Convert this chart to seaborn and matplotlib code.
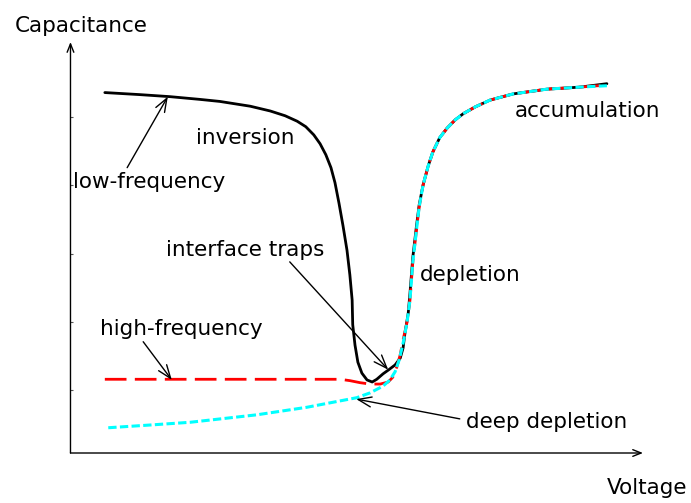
import matplotlib
matplotlib.use("Agg")
import matplotlib.pyplot as plt
import seaborn as sns
import pandas as pd

# ---- C-V curves of an MOS capacitor (arbitrary units) ----
lf_voltage = [0.60, 1.21, 1.74, 2.26, 2.61, 3.14, 3.49, 3.75, 3.96, 4.11, 4.25, 4.36,
              4.46, 4.55, 4.62, 4.69, 4.76, 4.83, 4.88, 4.92, 4.93, 4.97, 5.02, 5.09,
              5.18, 5.27, 5.35, 5.46, 5.56, 5.67, 5.76, 5.81, 5.84, 5.90, 5.93, 5.98,
              6.04, 6.09, 6.16, 6.25, 6.33, 6.45, 6.58, 6.72, 6.86, 7.07, 7.33, 7.73,
              8.32, 8.90, 9.37]
lf_cap = [5.36, 5.33, 5.30, 5.26, 5.23, 5.16, 5.09, 5.02, 4.94, 4.86, 4.74, 4.61,
          4.45, 4.26, 4.04, 3.74, 3.41, 3.05, 2.69, 2.32, 1.96, 1.66, 1.41, 1.25,
          1.15, 1.12, 1.16, 1.24, 1.30, 1.37, 1.47, 1.62, 1.82, 2.13, 2.42, 2.95,
          3.38, 3.71, 4.01, 4.29, 4.49, 4.70, 4.84, 4.96, 5.05, 5.15, 5.25, 5.34,
          5.41, 5.44, 5.49]

hf_voltage = [0.60, 4.71, 4.88, 5.06, 5.23, 5.41, 5.55, 5.63, 5.70, 5.76, 5.81, 5.88,
              5.93, 5.98, 6.04, 6.09, 6.16, 6.25, 6.33, 6.45, 6.58, 6.72, 6.86, 7.07,
              7.33, 7.73, 8.32, 8.90, 9.37]
hf_cap = [1.16, 1.16, 1.14, 1.11, 1.09, 1.09, 1.12, 1.19, 1.34, 1.52, 1.74, 2.00,
          2.32, 2.88, 3.32, 3.68, 4.01, 4.29, 4.49, 4.70, 4.84, 4.96, 5.05, 5.15,
          5.25, 5.34, 5.41, 5.44, 5.47]

dd_voltage = [0.66, 1.39, 2.09, 3.26, 4.13, 5.00, 5.23, 5.46, 5.58, 5.67, 5.74, 5.81,
              5.88, 5.93, 5.98, 6.04, 6.09, 6.16, 6.25, 6.33, 6.45, 6.58, 6.72, 6.86,
              7.07, 7.33, 7.73, 8.32, 8.90, 9.37]
dd_cap = [0.45, 0.49, 0.53, 0.64, 0.75, 0.89, 0.96, 1.06, 1.15, 1.27, 1.44, 1.69,
          2.00, 2.32, 2.88, 3.32, 3.68, 4.01, 4.29, 4.49, 4.70, 4.84, 4.96, 5.05,
          5.15, 5.25, 5.34, 5.41, 5.44, 5.46]

cap_ticks = [1, 2, 3, 4, 5]

# region labels: (text, left x, baseline y)
labels = [
    ("inversion", 2.19, 4.61),
    ("low-frequency", 0.04, 3.96),
    ("interface traps", 1.67, 2.97),
    ("depletion", 6.10, 2.60),
    ("high-frequency", 0.52, 1.81),
    ("accumulation", 7.76, 5.00),
    ("deep depletion", 6.91, 0.45),
]

# pointer arrows: (tail, head)
pointers = [
    ((0.99, 4.26), (1.70, 5.30)),
    ((1.27, 1.71), (1.77, 1.15)),
    ((3.83, 2.88), (5.55, 1.30)),
    ((6.80, 0.58), (4.99, 0.87)),
]

sns.set_theme(style="white")
plt.rcParams["font.family"] = ["DejaVu Sans"]
plt.rcParams["lines.scale_dashes"] = False
plt.rcParams["text.color"] = "black"
plt.rcParams["axes.labelcolor"] = "black"

FS = 15.5

fig = plt.figure(figsize=(6.91, 5.03), dpi=100)
ax = fig.add_axes([0.102, 0.0994, 0.8285, 0.817])

lf = pd.DataFrame({"V": lf_voltage, "C": lf_cap})
hf = pd.DataFrame({"V": hf_voltage, "C": hf_cap})
dd = pd.DataFrame({"V": dd_voltage, "C": dd_cap})

sns.lineplot(data=lf, x="V", y="C", ax=ax, sort=False, estimator=None,
             color="black", lw=2.0, zorder=3, solid_joinstyle="round")
sns.lineplot(data=hf, x="V", y="C", ax=ax, sort=False, estimator=None,
             color="#ff0000", lw=2.0, linestyle=(0, (15.6, 6.0)), zorder=4)
sns.lineplot(data=dd, x="V", y="C", ax=ax, sort=False, estimator=None,
             color="#00ffff", lw=2.2, linestyle=(0, (6.0, 2.4)), zorder=5)

ax.set_xlim(0, 10)
ax.set_ylim(0.08, 6.10)
ax.set_xticks([])
ax.set_yticks(cap_ticks)
ax.set_yticklabels([])
ax.tick_params(axis="y", direction="in", length=2.5, width=0.8, color="#555555", left=True)
for s in ax.spines.values():
    s.set_visible(False)

# axes drawn as arrows
axis_arrow = dict(arrowstyle="->,head_length=0.5,head_width=0.2", lw=1.0, color="black",
                  shrinkA=0, shrinkB=0)
ax.annotate("", xy=(1, 0), xytext=(0, 0), xycoords="axes fraction",
            textcoords="axes fraction", arrowprops=axis_arrow)
ax.annotate("", xy=(0, 1), xytext=(0, 0), xycoords="axes fraction",
            textcoords="axes fraction", arrowprops=axis_arrow)

ax.set_xlabel("Voltage", fontsize=FS, ha="right", va="baseline")
ax.xaxis.set_label_coords(1.077, -0.0998)
ax.set_ylabel("Capacitance", fontsize=FS, rotation=0, ha="left", va="baseline")
ax.yaxis.set_label_coords(-0.097, 1.024)

for text, x, y in labels:
    ax.text(x, y, text, fontsize=FS, ha="left", va="baseline", color="black", zorder=6)

ptr = dict(arrowstyle="->,head_length=0.8,head_width=0.3", lw=1.0, color="black",
           shrinkA=0, shrinkB=0)
for tail, head in pointers:
    ax.annotate("", xy=head, xytext=tail, arrowprops=ptr, zorder=6)

fig.savefig("out.png", dpi=100)
